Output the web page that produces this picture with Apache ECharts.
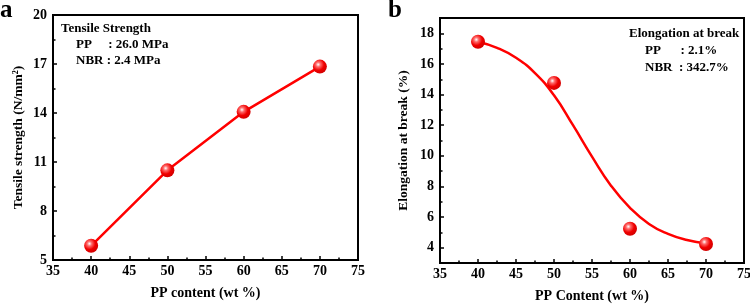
<!DOCTYPE html>
<html>
<head>
<meta charset="utf-8">
<script src="https://cdn.jsdelivr.net/npm/echarts@6/dist/echarts.min.js"></script>
<style>html,body{margin:0;padding:0;background:#fff}#c{width:750px;height:304px}</style>
</head>
<body>
<div id="c"></div>
<script>
// Panel a: tensile strength
const ppContentA = [40, 50, 60, 70];
const tensileStrength = [5.87, 10.49, 14.07, 16.84];
const yTicksA = [5, 8, 11, 14, 17, 20];
const yMinorTicksA = [6.5, 9.5, 12.5, 15.5, 18.5];

// Panel b: elongation at break
const ppContentB = [40, 50, 60, 70];
const elongation = [17.45, 14.76, 5.24, 4.24];
// fitted curve
const fitX = [40, 42.5, 45, 47.5, 50, 52.5, 55, 57.5, 60, 62.5, 65, 67.5, 70];
const fitY = [17.45, 17.05, 16.4, 15.4, 13.95, 12.0, 9.95, 8.05, 6.6, 5.55, 4.9, 4.5, 4.28];
const yTicksB = [4, 6, 8, 10, 12, 14, 16, 18];
const yMinorTicksB = [5, 7, 9, 11, 13, 15, 17];

const FONT = '"Liberation Serif", "Times New Roman", serif';
const RED = '#ff0000';
const sphere = {
  type: 'radial', x: 0.38, y: 0.35, r: 0.75,
  colorStops: [
    {offset: 0, color: '#ffffff'},
    {offset: 0.22, color: '#ff6a6a'},
    {offset: 0.55, color: '#f00000'},
    {offset: 1, color: '#c80000'}
  ]
};

const labelStyle = {color: '#000', fontFamily: 'Liberation Serif', fontWeight: 'bold', fontSize: 14};
const nameStyleX = {color: '#000', fontFamily: 'Liberation Serif', fontWeight: 'bold', fontSize: 14};
const nameStyleY = {color: '#000', fontFamily: 'Liberation Serif', fontWeight: 'bold', fontSize: 13.5};
const lineStyle = {color: '#000', width: 2};

function xAxis(gridIndex, name) {
  return {
    type: 'value', gridIndex, min: 35, max: 75, interval: 5,
    name, nameLocation: 'middle', nameGap: 26, nameTextStyle: nameStyleX,
    axisLine: {show: true, onZero: false, lineStyle},
    axisTick: {show: true, inside: true, length: 4, lineStyle: {color: '#000', width: 1.5}},
    minorTick: {show: true, splitNumber: 2, length: 2.5, lineStyle: {color: '#000', width: 1.5}},
    axisLabel: Object.assign({margin: 4}, labelStyle),
    splitLine: {show: false}, minorSplitLine: {show: false}
  };
}
function yAxisMajor(gridIndex, min, max, ticks, name, gap) {
  return {
    type: 'value', gridIndex, min, max,
    name, nameLocation: 'middle', nameGap: gap, nameTextStyle: nameStyleY,
    axisLine: {show: true, onZero: false, lineStyle},
    axisTick: {show: true, inside: true, length: 4, customValues: ticks, lineStyle: {color: '#000', width: 1.5}},
    axisLabel: Object.assign({margin: 6, customValues: ticks}, labelStyle),
    splitLine: {show: false}
  };
}
function yAxisMinor(gridIndex, min, max, ticks) {
  return {
    type: 'value', gridIndex, min, max, position: 'left',
    axisLine: {show: false},
    axisTick: {show: true, inside: true, length: 2.5, customValues: ticks, lineStyle: {color: '#000', width: 1.5}},
    axisLabel: {show: false},
    splitLine: {show: false}
  };
}

const chart = echarts.init(document.getElementById('c'), null, {renderer: 'canvas'});
chart.setOption({
  animation: false,
  backgroundColor: '#fff',
  grid: [
    {left: 53, right: 392, top: 15, bottom: 44, show: true, borderColor: '#000', borderWidth: 2, backgroundColor: 'transparent', containLabel: false, outerBoundsMode: 'none'},
    {left: 440, right: 6, top: 18, bottom: 41, show: true, borderColor: '#000', borderWidth: 2, backgroundColor: 'transparent', containLabel: false, outerBoundsMode: 'none'}
  ],
  xAxis: [xAxis(0, 'PP content (wt %)'), xAxis(1, 'PP Content (wt %)')],
  yAxis: [
    yAxisMajor(0, 5, 20, yTicksA, 'Tensile strength (N/mm²)', 27),
    yAxisMinor(0, 5, 20, yMinorTicksA),
    yAxisMajor(1, 3, 19, yTicksB, 'Elongation at break (%)', 29),
    yAxisMinor(1, 3, 19, yMinorTicksB)
  ],
  series: [
    {
      type: 'line', xAxisIndex: 0, yAxisIndex: 0,
      data: ppContentA.map((x, i) => [x, tensileStrength[i]]),
      lineStyle: {color: RED, width: 2.5},
      symbol: 'circle', symbolSize: 14,
      itemStyle: {color: sphere, borderWidth: 0},
      z: 3
    },
    {
      type: 'line', xAxisIndex: 1, yAxisIndex: 2,
      data: fitX.map((x, i) => [x, fitY[i]]),
      smooth: 0.5, showSymbol: false, symbol: 'none',
      lineStyle: {color: RED, width: 2.5},
      z: 2
    },
    {
      type: 'scatter', xAxisIndex: 1, yAxisIndex: 2,
      data: ppContentB.map((x, i) => [x, elongation[i]]),
      symbol: 'circle', symbolSize: 14,
      itemStyle: {color: sphere, borderWidth: 0, opacity: 1},
      z: 4
    }
  ],
  graphic: [
    {type: 'text', left: 0, top: -2, style: {text: 'a', font: 'bold 25px ' + FONT, fill: '#000'}},
    {type: 'text', left: 388, top: -2, style: {text: 'b', font: 'bold 25px ' + FONT, fill: '#000'}},
    {type: 'text', left: 61, top: 22, style: {text: 'Tensile Strength', font: 'bold 13px ' + FONT, fill: '#000'}},
    {type: 'text', left: 76, top: 38, style: {text: 'PP     : 26.0 MPa', font: 'bold 13px ' + FONT, fill: '#000'}},
    {type: 'text', left: 76, top: 54, style: {text: 'NBR : 2.4 MPa', font: 'bold 13px ' + FONT, fill: '#000'}},
    {type: 'text', left: 629, top: 27, style: {text: 'Elongation at break', font: 'bold 13px ' + FONT, fill: '#000'}},
    {type: 'text', left: 645, top: 44, style: {text: 'PP      : 2.1%', font: 'bold 13px ' + FONT, fill: '#000'}},
    {type: 'text', left: 645, top: 61, style: {text: 'NBR  : 342.7%', font: 'bold 13px ' + FONT, fill: '#000'}}
  ]
});
</script>
</body>
</html>
